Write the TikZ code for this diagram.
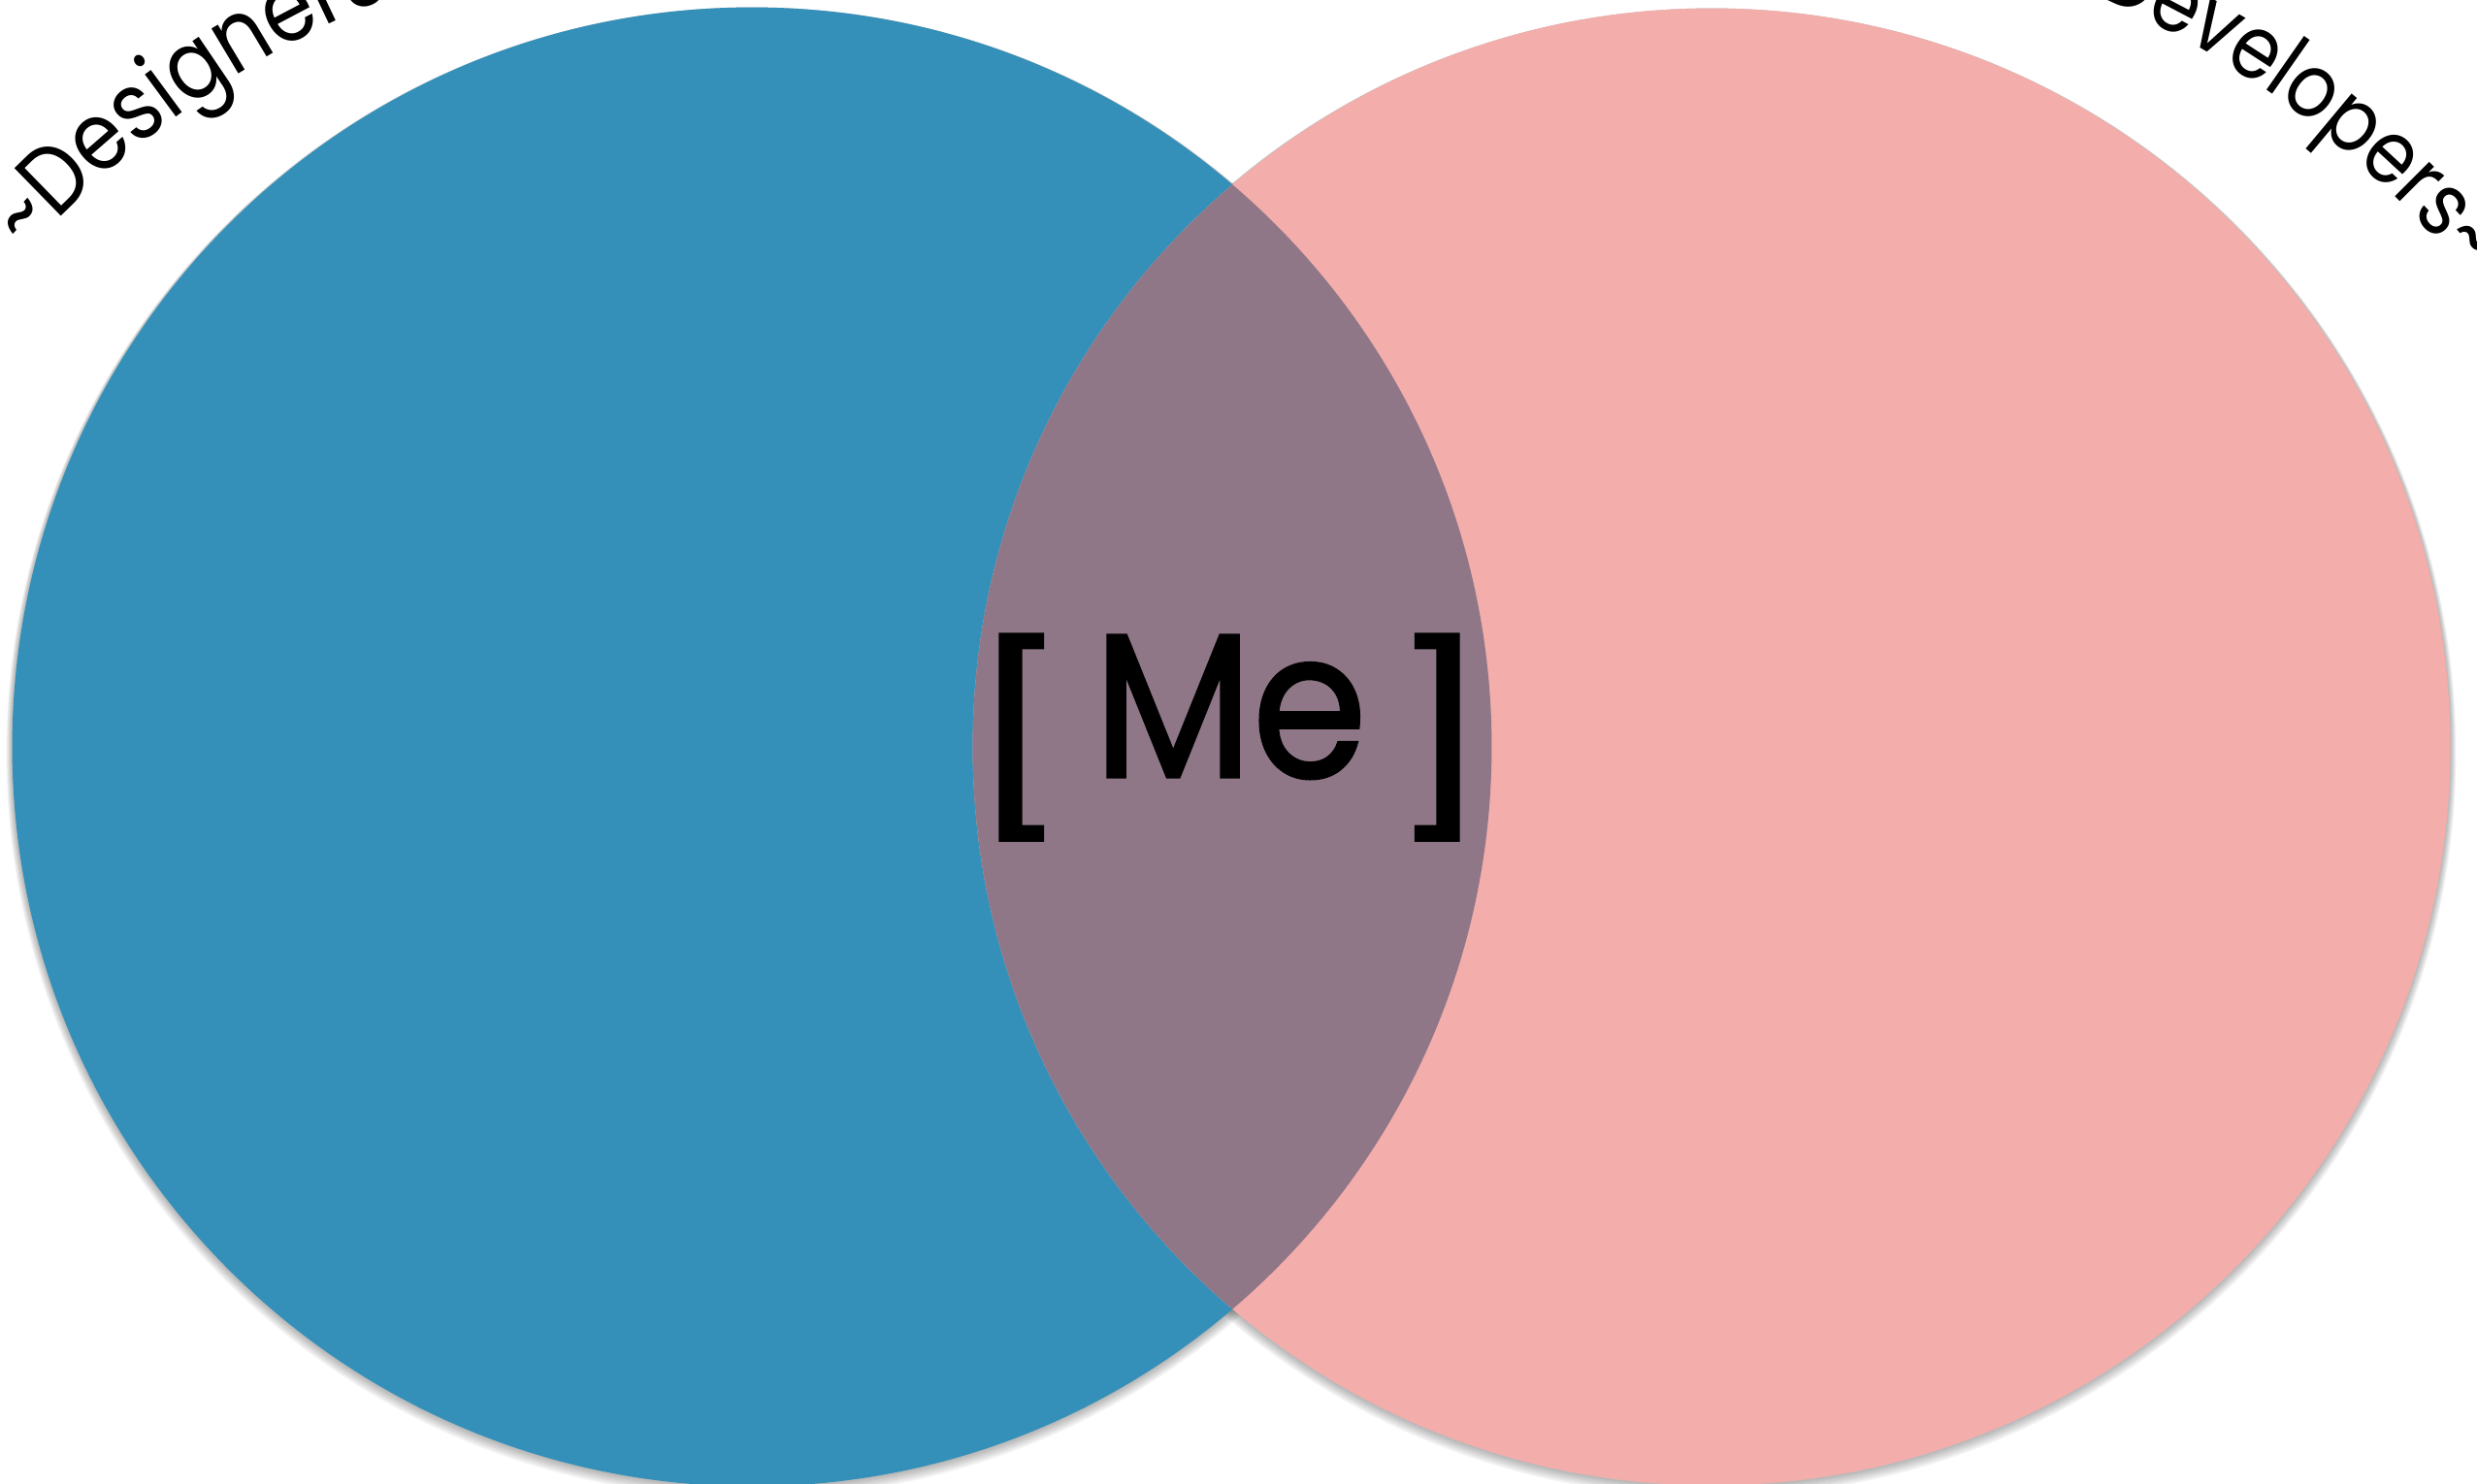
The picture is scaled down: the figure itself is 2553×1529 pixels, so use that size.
\documentclass[tikz,border=0pt]{standalone}
\usepackage{fontspec}
\usepackage{graphicx}
\setmainfont{Poppins}
\newfontfamily\arcfont[FakeStretch=0.86]{Poppins}
\newfontfamily\mefont[FakeStretch=0.9,FakeBold=1.5]{Poppins}
\usetikzlibrary{calc,decorations.text}
\definecolor{dblue}{HTML}{3590B9}
\definecolor{dpink}{HTML}{F3ADAB}
\definecolor{dmix}{HTML}{8F7788}
\tikzset{
  vshadow/.style={fill=black,opacity=0.05},
  arclabel/.style={decorate,decoration={text along path,text align=left,raise=0pt}},
  bigtext/.style={font=\mefont\fontsize{60}{70}\selectfont,inner sep=0pt},
  brk/.style={bigtext,anchor=center}
}
\begin{document}
\begin{tikzpicture}[x=0.01cm,y=-0.01cm]
\useasboundingbox (0,0) rectangle (2553,1529);
\coordinate (L) at (775,770);
\coordinate (R) at (1764,770);
\coordinate (LT) at (775,920);
\coordinate (RT) at (1764,920);
% soft shadow
\foreach \k in {1,...,6}{
  \fill[vshadow] (775,770+\k) circle[radius=7.62cm+\k*0.01cm];
  \fill[vshadow] (1764,770+\k) circle[radius=7.61cm+\k*0.01cm];
}
\fill[dblue] (L) circle[radius=7.62cm];
\fill[dpink] (R) circle[radius=7.61cm];
\begin{scope}
  \clip (L) circle[radius=7.62cm];
  \fill[dmix] (R) circle[radius=7.61cm];
\end{scope}
% curved labels
\path[arclabel,decoration={text={|\arcfont\fontsize{28}{32}\selectfont|{\symbol{126}}Designers{\symbol{126}}}}]
  ($(LT)+(138.5:9.95cm)$) arc[start angle=138.5,end angle=70,radius=9.95cm];
\path[arclabel,decoration={text={|\arcfont\fontsize{26}{30}\selectfont|{\symbol{126}}Developers{\symbol{126}}}}]
  ($(RT)+(69.2:10.05cm)$) arc[start angle=69.2,end angle=5,radius=10.05cm];
% centre label
\node[brk] (lbr) at (1050,760) {\scalebox{1.25}[0.9]{[}};
\node[bigtext,anchor=base] (me) at (1268,801) {Me};
\node[brk] (rbr) at (1484,760) {\scalebox{1.25}[0.9]{]}};
\end{tikzpicture}
\end{document}
